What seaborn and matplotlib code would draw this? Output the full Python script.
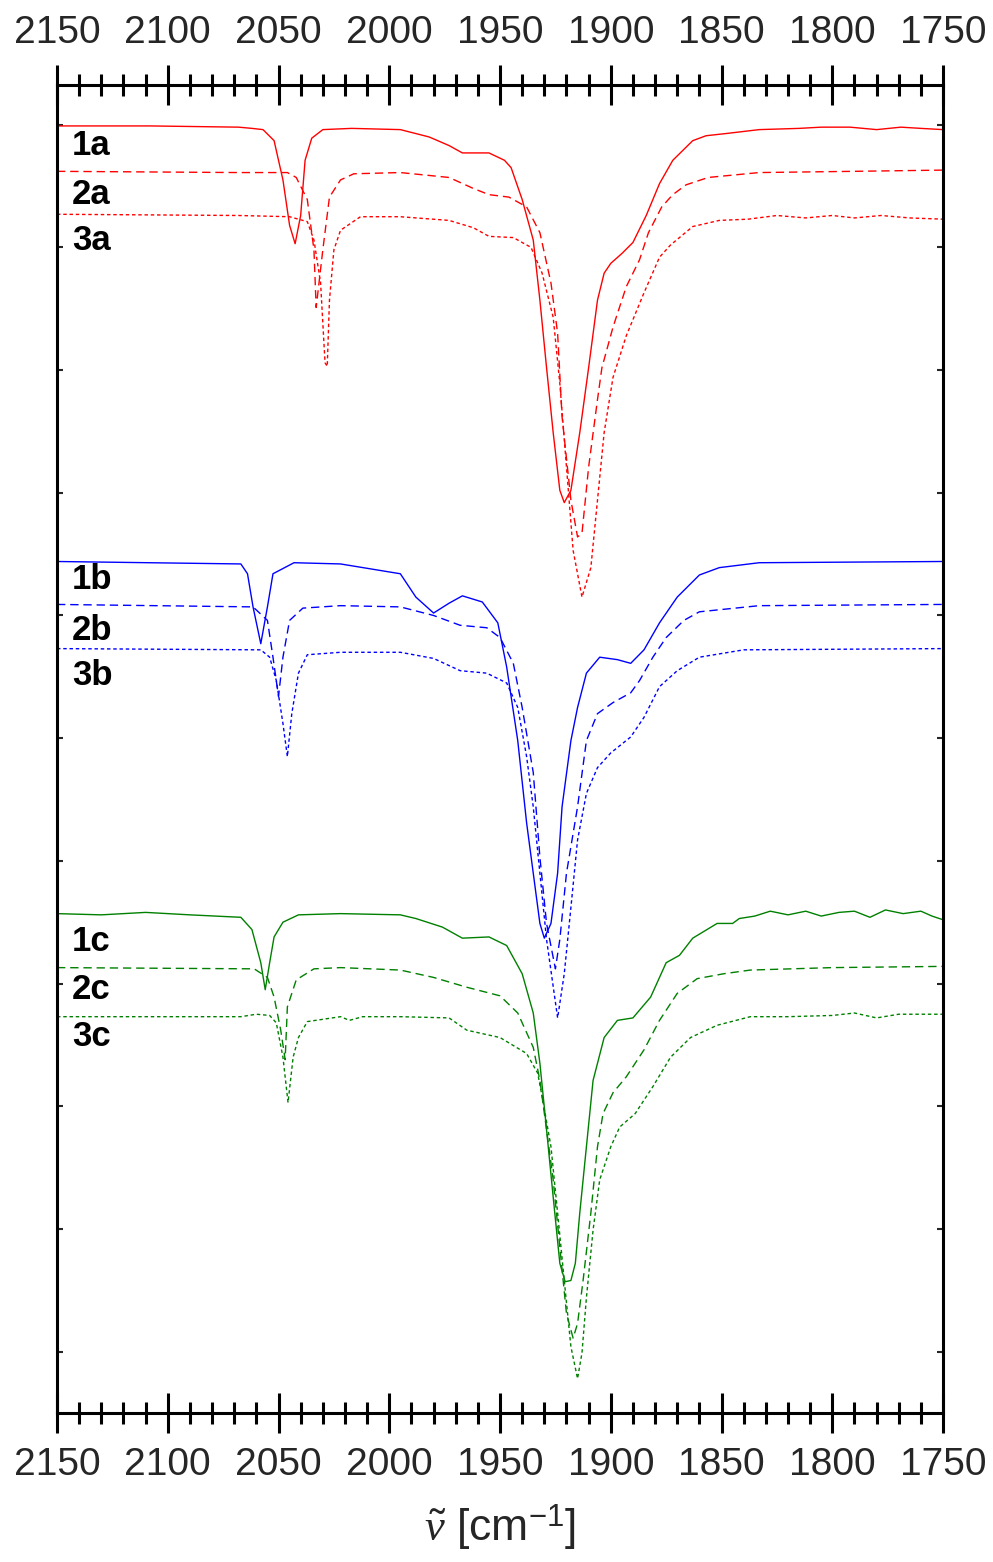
import numpy as np
import pandas as pd
import matplotlib
matplotlib.use("Agg")
import matplotlib.pyplot as plt
import matplotlib.transforms as mtransforms
from matplotlib.ticker import MultipleLocator
import seaborn as sns

# IR spectra (wavenumber in cm-1, offset transmittance in a.u.)
wn_1a = [2150, 2108, 2068, 2062, 2057, 2052, 2048, 2045, 2042.5, 2040, 2038, 2035, 2030, 2017, 1995,
         1982, 1973, 1967, 1961, 1955, 1948, 1945, 1940, 1935, 1932, 1929, 1926, 1923, 1921,
         1918, 1914, 1910, 1906, 1903, 1900, 1895, 1890, 1884, 1878, 1872, 1863, 1857, 1847,
         1833, 1815, 1805, 1792, 1780, 1769, 1760, 1750]
sig_1a = [99.9, 99.9, 99.8, 99.7, 99.6, 98.7, 95.5, 91.8, 90.3, 92.6, 97.1, 98.9, 99.6, 99.7, 99.6,
          99.0, 98.3, 97.7, 97.7, 97.7, 97.1, 96.5, 93.9, 90.6, 85.7, 80.2, 74.9, 70.2, 69.2,
          70.2, 74.9, 80.2, 85.7, 87.9, 88.7, 89.5, 90.4, 92.6, 95.2, 97.1, 98.7, 99.1, 99.3,
          99.6, 99.7, 99.8, 99.8, 99.6, 99.8, 99.7, 99.6]

wn_2a = [2150, 2068, 2046, 2042, 2037, 2034, 2033, 2030, 2027, 2022, 2016, 1995, 1973, 1962,
         1955, 1946, 1938, 1932, 1927, 1924, 1922, 1918, 1915, 1913, 1910, 1906, 1904, 1899,
         1893, 1887, 1883, 1877, 1872, 1866, 1856, 1833, 1790, 1750]
sig_2a = [96.2, 96.1, 96.1, 95.7, 93.9, 89.8, 85.1, 89.8, 94.1, 95.5, 96.0, 96.1, 95.7, 94.8,
          94.3, 94.1, 93.3, 91.2, 87.1, 83.0, 76.2, 69.4, 66.4, 66.7, 72.1, 77.6, 80.2, 83.5,
          86.8, 89.0, 91.2, 93.3, 94.3, 95.1, 95.7, 96.1, 96.2, 96.3]

wn_3a = [2150, 2068, 2045, 2037, 2034, 2031, 2029, 2028, 2027, 2025, 2022, 2013, 1995, 1973,
         1962, 1955, 1944, 1936, 1931, 1926, 1923, 1920, 1917, 1913, 1909, 1906, 1903, 1899,
         1893, 1885, 1878, 1873, 1863, 1851, 1838, 1825, 1812, 1800, 1790, 1778, 1765, 1750]
sig_3a = [92.7, 92.6, 92.5, 92.1, 90.6, 87.1, 80.6, 80.3, 85.7, 89.8, 91.4, 92.5, 92.5, 92.2,
          91.6, 90.9, 90.8, 90.0, 87.9, 84.3, 78.9, 72.1, 65.3, 61.5, 63.9, 69.4, 74.9, 79.4,
          82.8, 86.3, 89.2, 90.2, 91.7, 92.2, 92.3, 92.6, 92.4, 92.6, 92.4, 92.6, 92.4, 92.3]

wn_1b = [2150, 2067, 2064, 2061.5, 2058, 2055, 2052.5, 2043, 2022, 1995, 1988, 1980, 1973, 1967,
         1958, 1951, 1947, 1942, 1938, 1935, 1932, 1930, 1927, 1924, 1922, 1918, 1915, 1911,
         1905, 1897, 1891, 1885, 1878, 1870, 1860, 1851, 1833, 1750]
sig_1b = [64.4, 64.2, 63.4, 60.7, 57.7, 60.7, 63.4, 64.3, 64.2, 63.4, 61.5, 60.2, 61.0, 61.6,
          61.1, 59.4, 55.8, 49.8, 43.1, 39.0, 34.9, 33.7, 34.9, 39.0, 44.4, 49.8, 52.5, 55.3,
          56.6, 56.4, 56.1, 57.2, 59.4, 61.5, 63.3, 63.9, 64.3, 64.4]

wn_2b = [2150, 2061.5, 2055, 2052.5, 2050, 2048, 2045, 2039, 2022, 1995, 1980, 1968, 1956, 1950,
         1944, 1940, 1935, 1932, 1929, 1925, 1923, 1920, 1915, 1911, 1906, 1899, 1891, 1887,
         1881, 1875, 1867, 1860, 1833, 1750]
sig_2b = [60.9, 60.7, 59.6, 56.6, 53.4, 56.6, 59.6, 60.6, 60.8, 60.7, 60.0, 59.2, 59.0, 58.2,
          56.1, 52.5, 47.2, 40.3, 34.9, 31.2, 33.6, 39.0, 44.4, 49.8, 52.0, 52.9, 53.7, 54.7,
          56.6, 58.2, 59.6, 60.3, 60.8, 60.9]

wn_3b = [2150, 2058, 2054, 2051, 2048, 2046, 2044, 2041, 2037, 2022, 1995, 1980, 1968, 1956,
         1947, 1942, 1938, 1935, 1932, 1929, 1924, 1921, 1918, 1915, 1911, 1906, 1900, 1891,
         1885, 1878, 1870, 1860, 1840, 1750]
sig_3b = [57.3, 57.2, 56.6, 54.7, 51.2, 48.5, 52.0, 55.3, 56.8, 57.0, 57.0, 56.5, 55.5, 55.3,
          54.5, 52.5, 48.5, 44.4, 39.0, 33.6, 27.2, 30.8, 36.2, 41.7, 45.5, 47.6, 48.8, 50.1,
          51.7, 54.2, 55.5, 56.6, 57.2, 57.3]

wn_1c = [2150, 2130, 2110, 2090, 2067, 2062, 2058, 2056, 2054, 2052, 2048, 2041, 2022, 1995,
         1988, 1976, 1967, 1955, 1947, 1940, 1935, 1932, 1929, 1926, 1923, 1920.6, 1918, 1916,
         1914, 1911, 1908, 1903, 1897, 1890, 1882, 1875, 1869, 1863, 1852, 1845, 1842, 1835,
         1828, 1820, 1812, 1805, 1797, 1790, 1783, 1776, 1768, 1760, 1755, 1750]
sig_1c = [35.7, 35.6, 35.8, 35.6, 35.4, 34.4, 31.7, 29.5, 31.7, 33.8, 35.0, 35.6, 35.7, 35.6,
          35.3, 34.6, 33.7, 33.8, 33.1, 30.8, 27.6, 23.5, 18.1, 12.6, 7.2, 5.7, 5.8, 7.2,
          11.3, 16.7, 22.1, 25.6, 27.0, 27.2, 28.9, 31.7, 32.3, 33.7, 34.9, 34.9, 35.3, 35.5,
          35.9, 35.6, 35.9, 35.5, 35.8, 35.9, 35.4, 36.0, 35.7, 35.9, 35.5, 35.2]

wn_2c = [2150, 2061, 2055, 2052, 2049, 2047, 2046, 2042, 2034, 2022, 1995, 1980, 1965, 1950,
         1942, 1935, 1932, 1929, 1926, 1923, 1920, 1917, 1915, 1912.5, 1909, 1906, 1903.5, 1899,
         1893, 1885, 1878, 1870, 1861, 1849, 1837, 1800, 1750]
sig_2c = [31.3, 31.2, 30.5, 28.9, 26.2, 23.8, 28.1, 30.3, 31.2, 31.3, 31.1, 30.5, 29.7, 29.0,
          27.6, 24.8, 22.1, 18.1, 14.0, 8.5, 3.1, 1.1, 2.3, 5.8, 11.3, 16.7, 19.4, 21.1,
          22.4, 24.6, 27.0, 29.2, 30.4, 30.8, 31.1, 31.3, 31.4]

wn_3c = [2150, 2067, 2060, 2054, 2051, 2048, 2045.7, 2043.4, 2041, 2037, 2022, 2018, 2012, 1995,
         1973, 1965, 1955, 1950, 1938, 1933, 1931, 1927, 1924, 1921, 1918, 1915, 1913, 1911,
         1908, 1905, 1900, 1896, 1889, 1881, 1873, 1864, 1852, 1837, 1820, 1800, 1790, 1780,
         1770, 1750]
sig_3c = [27.3, 27.3, 27.5, 27.4, 26.8, 24.0, 20.3, 24.0, 25.6, 26.9, 27.3, 27.0, 27.3, 27.3,
          27.2, 26.2, 25.8, 25.6, 24.3, 22.7, 20.8, 16.7, 11.3, 5.8, 0.4, -2.2, -0.1, 4.4,
          9.9, 14.0, 16.7, 18.3, 19.4, 21.6, 24.0, 25.6, 26.6, 27.3, 27.3, 27.4, 27.6, 27.2,
          27.5, 27.5]

traces = ["1a", "2a", "3a", "1b", "2b", "3b", "1c", "2c", "3c"]
wavenumbers = [wn_1a, wn_2a, wn_3a, wn_1b, wn_2b, wn_3b, wn_1c, wn_2c, wn_3c]
signals = [sig_1a, sig_2a, sig_3a, sig_1b, sig_2b, sig_3b, sig_1c, sig_2c, sig_3c]
# label anchor heights (same units as the signals)
label_y = [98.3, 94.3, 90.6, 62.9, 58.8, 55.1, 33.4, 29.5, 25.7]

colors = {"a": "#ff0000", "b": "#0000ff", "c": "#008000"}
linestyles = {"1": "-", "2": (0, (6, 3.5)), "3": (0, (2.5, 2))}

frames = []
for name, wn, sig in zip(traces, wavenumbers, signals):
    frames.append(pd.DataFrame({"wavenumber": wn, "signal": sig, "trace": name}))
df = pd.concat(frames, ignore_index=True)

sns.set_theme(style="ticks")
plt.rcParams["font.family"] = ["Liberation Sans", "DejaVu Sans"]
plt.rcParams["mathtext.fontset"] = "custom"
plt.rcParams["mathtext.rm"] = "Liberation Sans"
plt.rcParams["mathtext.it"] = "Liberation Serif:italic"

fig = plt.figure(figsize=(9.93, 15.62), dpi=100)
ax = fig.add_axes([0.0574, 0.0954, 0.8923, 0.8499])

for name in traces:
    sub = df[df["trace"] == name]
    sns.lineplot(data=sub, x="wavenumber", y="signal", ax=ax, estimator=None, sort=False,
                 color=colors[name[1]], linestyle=linestyles[name[0]], linewidth=1.0)

trans = mtransforms.blended_transform_factory(ax.transAxes, ax.transData)
for name, ly in zip(traces, label_y):
    ax.text(0.017, ly, name, transform=trans, fontsize=25, fontweight="bold",
            ha="left", va="center", color="black")

ax.set_xlim(2150, 1750)
ax.set_ylim(-5.0, 103.2)
ax.xaxis.set_major_locator(MultipleLocator(50))
ax.xaxis.set_minor_locator(MultipleLocator(10))
ax.set_yticks(np.arange(0, 101, 10))
ax.tick_params(axis="x", which="both", direction="inout", top=True, bottom=True,
               labeltop=True, labelbottom=True, labelsize=28, width=2.2, color="black")
ax.tick_params(axis="x", which="major", length=29, pad=10)
ax.tick_params(axis="x", which="minor", length=16)
ax.tick_params(axis="y", which="major", direction="in", left=True, right=True,
               labelleft=False, length=4, width=1.5)
for spine in ax.spines.values():
    spine.set_visible(True)
    spine.set_linewidth(2.2)
    spine.set_color("black")

ax.set_ylabel("")
ax.set_xlabel(r"$\tilde{\nu}$ [cm$^{-1}$]", fontsize=32, labelpad=14)

fig.savefig("out.png", dpi=100)
